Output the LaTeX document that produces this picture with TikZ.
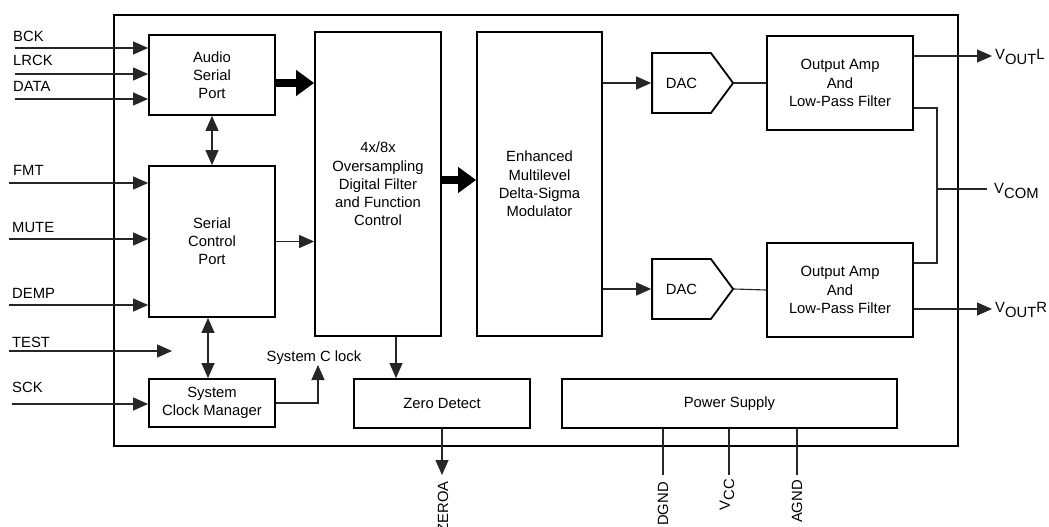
\documentclass[tikz,border=0pt]{standalone}
\usepackage{fontspec}
\setmainfont{Liberation Sans}
\usetikzlibrary{arrows.meta,shapes.symbols,calc}
\begin{document}
\begin{tikzpicture}[x=1pt,y=-1pt,
  every node/.style={font=\fontsize{14.8}{18.2}\selectfont},
  blk/.style={draw,line width=1.8pt,align=center,inner sep=0pt},
  dacbox/.style={draw,line width=1.8pt,signal,signal to=east,signal pointer angle=107,minimum width=81pt,minimum height=60pt,inner sep=0pt},
  wire/.style={line width=1.1pt,draw=black!85},
  arr/.style={wire,-{Triangle[length=15pt,width=13pt]}},
  darr/.style={wire,{Triangle[length=15pt,width=13pt]}-{Triangle[length=15pt,width=13pt]}},
  fat/.style={line width=8pt,-{Triangle[length=18pt,width=25pt]}},
  pin/.style={anchor=base west,inner sep=0pt},
  vpin/.style={rotate=90,anchor=east,inner sep=0pt}]
\useasboundingbox (0,0) rectangle (1049,527);
% outer chip boundary
\draw[line width=2pt] (114,15) rectangle (958,446);
% blocks
\node[blk,minimum width=126pt,minimum height=80pt] (asp) at (212,75) {Audio\\Serial\\Port};
\node[blk,minimum width=126pt,minimum height=151pt] (scp) at (212,241.5) {Serial\\Control\\Port};
\node[blk,minimum width=126pt,minimum height=48pt] (scm) at (212,403) {System\\Clock Manager};
\node[blk,minimum width=126pt,minimum height=304pt] (flt) at (378,184) {4x/8x\\Oversampling\\Digital Filter\\and Function\\Control};
\node[blk,minimum width=125pt,minimum height=304pt] (mod) at (539.5,184) {Enhanced\\Multilevel\\Delta-Sigma\\Modulator};
\node[dacbox] (dac1) at (681.5,83) {DAC};
\node[dacbox] (dac2) at (681.5,289) {DAC};
\node[blk,minimum width=146pt,minimum height=94pt] (amp1) at (840,83) {Output Amp\\And\\Low-Pass Filter};
\node[blk,minimum width=146pt,minimum height=94pt] (amp2) at (840,290) {Output Amp\\And\\Low-Pass Filter};
\node[blk,minimum width=176pt,minimum height=49pt] (zd) at (442,403.5) {Zero Detect};
\node[blk,minimum width=335pt,minimum height=49pt] (ps) at (729.5,403.5) {Power Supply};
% input pins
\coordinate (bck) at (15,48);
\coordinate (lrck) at (15,74);
\coordinate (data) at (15,99);
\coordinate (fmt) at (9,183);
\coordinate (mute) at (9,239);
\coordinate (demp) at (9,305);
\coordinate (test) at (9,351);
\coordinate (testend) at (172,351);
\coordinate (sck) at (12,404);
\node[pin] (lbck) at (13,42) {BCK};
\node[pin] (llrck) at (13,66) {LRCK};
\node[pin] (ldata) at (13,92) {DATA};
\node[pin] (lfmt) at (13,175) {FMT};
\node[pin] (lmute) at (12,232) {MUTE};
\node[pin] (ldemp) at (12,298) {DEMP};
\node[pin] (ltest) at (12,347) {TEST};
\node[pin] (lsck) at (12,392) {SCK};
\draw[arr] (bck) -- (bck -| asp.west);
\draw[arr] (lrck) -- (lrck -| asp.west);
\draw[arr] (data) -- (data -| asp.west);
\draw[arr] (fmt) -- (fmt -| scp.west);
\draw[arr] (mute) -- (mute -| scp.west);
\draw[arr] (demp) -- (demp -| scp.west);
\draw[arr] (test) -- (testend);
\draw[arr] (sck) -- (sck -| scm.west);
% internal connections
\draw[darr] (asp.south) -- (scp.north);
\coordinate (d2a) at ([xshift=-4pt]scp.south);
\draw[darr] (d2a) -- (d2a |- scm.north);
\coordinate (a1) at ([yshift=-8pt]asp.east);
\draw[fat] (a1) -- (a1 -| flt.west);
\draw[arr] (scp.east) -- (scp.east -| flt.west);
\coordinate (f1) at ([yshift=4pt]flt.east);
\draw[fat] (f1) -- (f1 -| mod.west);
\coordinate (f2) at ([xshift=18pt]flt.south);
\draw[arr] (f2) -- (f2 |- zd.north);
\coordinate (sc) at (318,365);
\draw[arr] (scm.east) -| (sc);
\node[anchor=base,inner sep=0pt] (lsc) at (314,361) {System C lock};
\draw[arr] (dac1.west -| mod.east) -- (dac1.west);
\draw[arr] (dac2.west -| mod.east) -- (dac2.west);
\draw[wire] (dac1.east) -- (amp1.west);
\draw[wire] (dac2.east) -- (amp2.west);
% outputs
\coordinate (o1) at ([yshift=27pt]amp1.east);
\coordinate (o1e) at (992,56);
\draw[arr] (o1) -- (o1 -| o1e);
\coordinate (o2) at ([yshift=-19pt]amp2.east);
\coordinate (o2e) at (992,309);
\draw[arr] (o2) -- (o2 -| o2e);
\coordinate (c1) at ([yshift=-25pt]amp1.east);
\coordinate (c2) at ([yshift=27pt]amp2.east);
\coordinate (cx) at (937,189);
\coordinate (cend) at (987,189);
\draw[wire] (c1) -| (cx) |- (c2);
\draw[wire] (cx) -- (cend);
\node[anchor=west,inner sep=0pt] (lvoutl) at (995,57) {V\raisebox{-0.55ex}{OUT}L};
\node[anchor=west,inner sep=0pt] (lvoutr) at (995,310) {V\raisebox{-0.55ex}{OUT}R};
\node[anchor=west,inner sep=0pt] (lvcom) at (994,191) {V\raisebox{-0.55ex}{COM}};
% bottom pins
\coordinate (z1) at (442,475);
\draw[arr] (zd.south) -- (z1);
\node[vpin] (lzeroa) at (443,481) {ZEROA};
\coordinate (p1) at (663,475);
\coordinate (p2) at (729,475);
\coordinate (p3) at (797,475);
\draw[wire] (p1 |- ps.south) -- (p1);
\draw[wire] (p2 |- ps.south) -- (p2);
\draw[wire] (p3 |- ps.south) -- (p3);
\node[vpin] (ldgnd) at (663,482) {DGND};
\node[vpin] (lvcc) at (727,479) {V\raisebox{-0.55ex}{CC}};
\node[vpin] (lagnd) at (797,480) {AGND};
\end{tikzpicture}
\end{document}
